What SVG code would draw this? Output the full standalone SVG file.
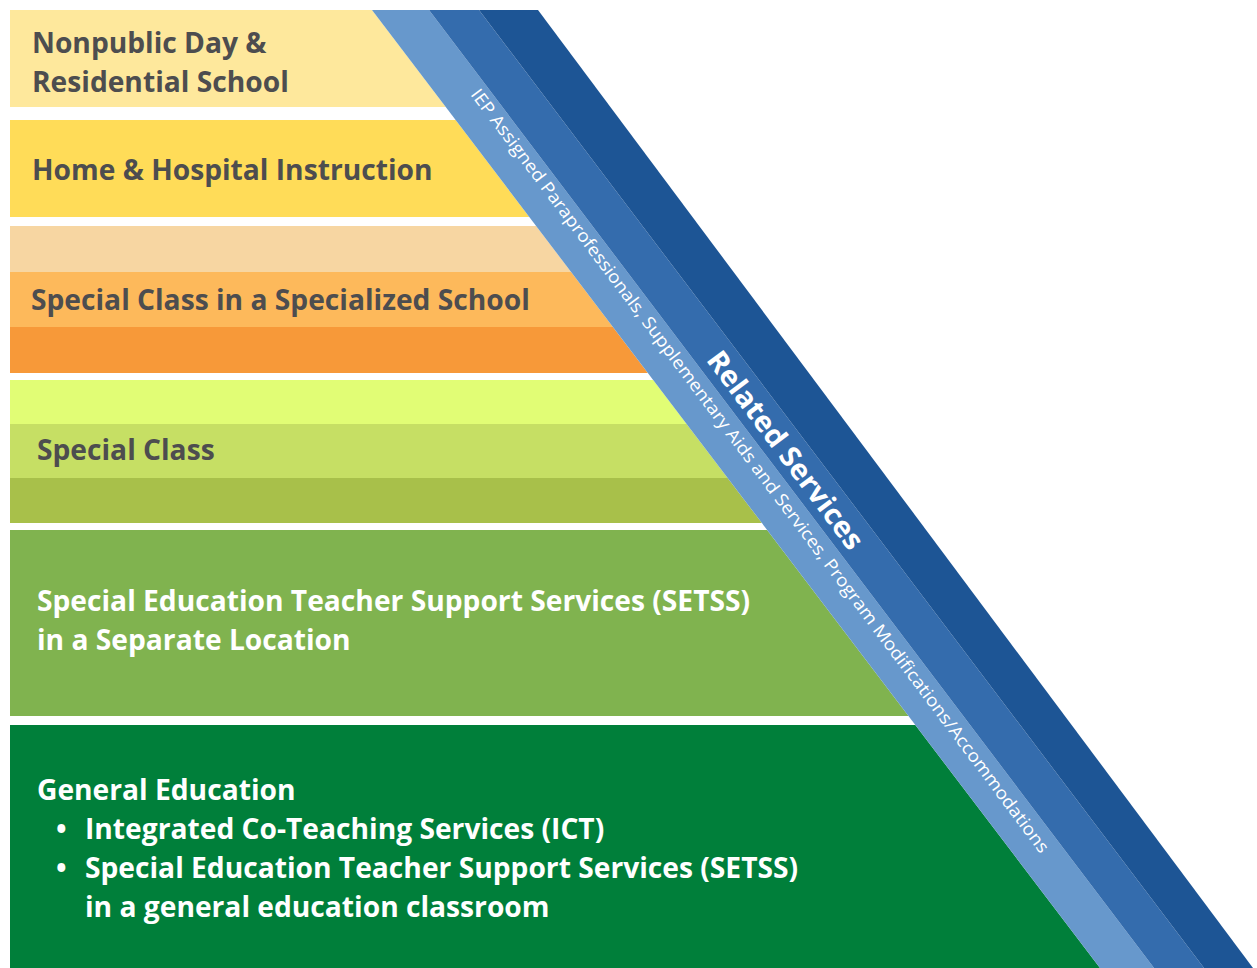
<svg xmlns="http://www.w3.org/2000/svg" width="1257" height="968" viewBox="0 0 1257 968">
<style>
.lbl{font-family:"Open Sans","Liberation Sans",sans-serif;font-weight:700;font-size:28.2px;fill:#4D4D4F}
.wl{fill:#FFFFFF}
.diag{font-family:"Open Sans","Liberation Sans",sans-serif;fill:#FFFFFF}
</style>
<defs>
<clipPath id="bandclip"><polygon points="10,10 372,10 1100,968 10,968"/></clipPath>
</defs>
<rect x="0" y="0" width="1257" height="968" fill="#FFFFFF"/>
<g clip-path="url(#bandclip)">
<g id="nonpublic">
<rect x="10" y="10" width="1100" height="97" fill="#FEE89C"/>
<text class="lbl" x="32" y="52.5">Nonpublic Day &amp;</text>
<text class="lbl" x="32" y="91.5">Residential School</text>
</g>
<g id="home-hospital">
<rect x="10" y="120" width="1100" height="97" fill="#FFDC58"/>
<text class="lbl" x="32" y="180">Home &amp; Hospital Instruction</text>
</g>
<g id="special-class-specialized">
<rect x="10" y="226" width="1100" height="46" fill="#F7D6A2"/>
<rect x="10" y="272" width="1100" height="55" fill="#FDB95B"/>
<rect x="10" y="327" width="1100" height="46" fill="#F79939"/>
<text class="lbl" x="31" y="310">Special Class in a Specialized School</text>
</g>
<g id="special-class">
<rect x="10" y="380" width="1100" height="44" fill="#E1FD75"/>
<rect x="10" y="424" width="1100" height="54" fill="#C6DF64"/>
<rect x="10" y="478" width="1100" height="45" fill="#A8C04A"/>
<text class="lbl" x="37" y="460">Special Class</text>
</g>
<g id="setss-separate">
<rect x="10" y="530" width="1100" height="186" fill="#80B34F"/>
<text class="lbl wl" x="37" y="611">Special Education Teacher Support Services (SETSS)</text>
<text class="lbl wl" x="37" y="650">in a Separate Location</text>
</g>
<g id="general-education">
<rect x="10" y="725" width="1100" height="243" fill="#007F3A"/>
<text class="lbl wl" x="37" y="800">General Education</text>
<text class="lbl wl" x="56" y="839">•</text>
<text class="lbl wl" x="85" y="839">Integrated Co-Teaching Services (ICT)</text>
<text class="lbl wl" x="56" y="878">•</text>
<text class="lbl wl" x="85" y="878">Special Education Teacher Support Services (SETSS)</text>
<text class="lbl wl" x="85" y="917">in a general education classroom</text>
</g>
</g>
<g id="stripes">
<polygon points="372,10 429,10 1154,968 1100,968" fill="#6798CC"/>
<polygon points="429,10 479,10 1204,968 1154,968" fill="#346CAD"/>
<polygon points="479,10 538,10 1253,968 1204,968" fill="#1D5595"/>
<text class="diag" font-size="17.5" transform="translate(470,94.5) rotate(53.1)" textLength="950" lengthAdjust="spacingAndGlyphs">IEP Assigned Paraprofessionals, Supplementary Aids and Services, Program Modifications/Accommodations</text>
<text class="diag" font-size="28.5" font-weight="700" transform="translate(705.5,360) rotate(53.1)" textLength="240" lengthAdjust="spacingAndGlyphs">Related Services</text>
</g>
</svg>
